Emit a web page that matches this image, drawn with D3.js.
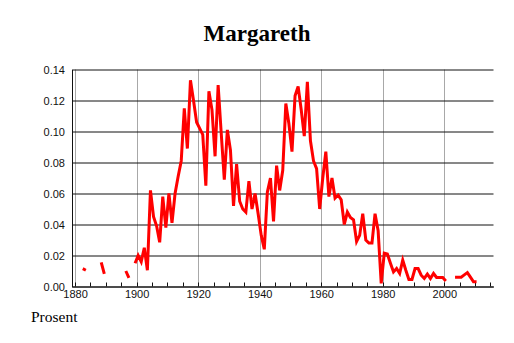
<!DOCTYPE html>
<html>
<head>
<meta charset="utf-8">
<script src="https://cdn.jsdelivr.net/npm/d3@7"></script>
<style>
  html, body { margin: 0; padding: 0; background: #fff; }
  svg { display: block; }
</style>
</head>
<body>
<div id="chart"></div>
<script>
// Share of newborns named Margareth, per year (percent). null = no data that year.
const firstYear = 1882;
const share = [
  0.0115, 0.0105, null, null, null, null, 0.0155, 0.0082,            // 1882-1889
  null, null, null, null, null, null, 0.0100, 0.0055, null, 0.015,     // 1890-1899
  0.020, 0.016, 0.025, 0.0105, 0.062, 0.045, 0.039, 0.0285, 0.058, 0.038, // 1900-1909
  0.060, 0.041, 0.060, 0.071, 0.081, 0.115, 0.089, 0.133, 0.120, 0.106,  // 1910-1919
  0.102, 0.098, 0.065, 0.126, 0.114, 0.084, 0.130, 0.099, 0.069, 0.101,  // 1920-1929
  0.088, 0.052, 0.079, 0.055, 0.050, 0.048, 0.068, 0.050, 0.060, 0.047,  // 1930-1939
  0.033, 0.024, 0.061, 0.070, 0.042, 0.078, 0.062, 0.075, 0.118, 0.105,  // 1940-1949
  0.087, 0.123, 0.129, 0.114, 0.097, 0.132, 0.094, 0.081, 0.076, 0.050,  // 1950-1959
  0.070, 0.087, 0.058, 0.070, 0.057, 0.059, 0.056, 0.040, 0.048, 0.0445, // 1960-1969
  0.043, 0.029, 0.033, 0.047, 0.030, 0.028, 0.028, 0.047, 0.036, 0.002,  // 1970-1979
  0.0215, 0.021, 0.015, 0.0094, 0.0116, 0.0084, 0.017, 0.0105, 0.0045, 0.0045, // 1980-1989
  0.0116, 0.0116, 0.0073, 0.0052, 0.008, 0.0052, 0.0084, 0.0058, 0.0058, 0.0058, // 1990-1999
  0.0036, null, null, 0.006, 0.006, 0.006, 0.0075, 0.009, 0.006, 0.003,  // 2000-2009
  0.003                                                                   // 2010
];
const years = d3.range(firstYear, firstYear + share.length);

const yTicks = [0, 0.02, 0.04, 0.06, 0.08, 0.10, 0.12, 0.14];
const xLabelYears = [1880, 1900, 1920, 1940, 1960, 1980, 2000];
const xMinorYears = [1880, 1885, 1890, 1895, 1900, 1905, 1910, 1915, 1920, 1925,
  1930, 1935, 1940, 1945, 1950, 1955, 1960, 1965, 1970, 1975, 1980, 1985,
  1990, 1995, 2000, 2005, 2010, 2015];

const title = "Margareth";
const unitLabel = "Prosent";

const W = 514, H = 343;
const plotLeft = 72, plotRight = 493.5, plotTop = 69.5, plotBottom = 286.5;

const svg = d3.select("#chart").append("svg")
  .attr("width", W).attr("height", H);

const x = d3.scaleLinear().domain([1879, 2016]).range([plotLeft, plotRight]);
const y = d3.scaleLinear().domain([0, 0.14]).range([plotBottom, plotTop]);

// vertical grey grid lines at the labelled years
svg.append("g")
  .selectAll("line")
  .data(xLabelYears)
  .join("line")
  .attr("x1", d => Math.round(x(d)) + 0.5)
  .attr("x2", d => Math.round(x(d)) + 0.5)
  .attr("y1", plotTop).attr("y2", plotBottom)
  .attr("stroke", "#a8a8a8").attr("stroke-width", 1);

// y axis with full-width horizontal grid lines
const yAxis = svg.append("g")
  .attr("transform", `translate(${plotLeft},0)`)
  .call(d3.axisLeft(y).tickValues(yTicks).tickFormat(d3.format(".2f"))
    .tickSize(-(plotRight - plotLeft)).tickSizeOuter(0).tickPadding(7));
yAxis.selectAll(".tick line").attr("stroke", "#111");
yAxis.select(".domain").attr("stroke", "#111");
yAxis.selectAll("text")
  .attr("font-family", "Liberation Sans, Arial, sans-serif")
  .attr("font-size", 11).attr("fill", "#111");

// x axis: labels every 20 years, small inward ticks every 5 years
const xAxis = svg.append("g")
  .attr("transform", `translate(0,${plotBottom})`)
  .call(d3.axisBottom(x).tickValues(xLabelYears).tickFormat(d3.format("d"))
    .tickSize(0).tickPadding(4));
xAxis.select(".domain").attr("stroke", "#111");
xAxis.selectAll("text")
  .attr("font-family", "Liberation Sans, Arial, sans-serif")
  .attr("font-size", 11).attr("fill", "#111");

svg.append("g")
  .selectAll("line")
  .data(xMinorYears)
  .join("line")
  .attr("x1", d => Math.round(x(d)) + 0.5)
  .attr("x2", d => Math.round(x(d)) + 0.5)
  .attr("y1", plotBottom - 4).attr("y2", plotBottom)
  .attr("stroke", "#111").attr("stroke-width", 1);

// the series, each year's value drawn at the middle of its year
const points = years.map((yr, i) => ({ year: yr, v: share[i] }));
const line = d3.line()
  .defined(d => d.v !== null)
  .x(d => x(d.year + 0.5))
  .y(d => y(d.v));

svg.append("path")
  .datum(points)
  .attr("d", line)
  .attr("fill", "none")
  .attr("stroke", "#ff0000")
  .attr("stroke-width", 3);

// title and unit label
svg.append("text")
  .attr("x", 257).attr("y", 41)
  .attr("text-anchor", "middle")
  .attr("font-family", "Liberation Serif, Times New Roman, serif")
  .attr("font-weight", "bold")
  .attr("font-size", 23)
  .attr("fill", "#000")
  .text(title);

svg.append("text")
  .attr("x", 31).attr("y", 322)
  .attr("font-family", "Liberation Serif, Times New Roman, serif")
  .attr("font-size", 15.5)
  .attr("fill", "#000")
  .text(unitLabel);
</script>
</body>
</html>
